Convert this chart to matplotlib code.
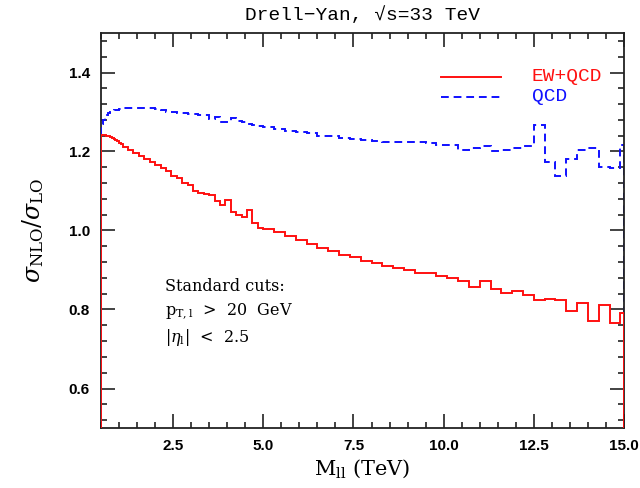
import matplotlib
matplotlib.use("Agg")
import matplotlib.pyplot as plt
from matplotlib.ticker import MultipleLocator, FormatStrFormatter

# ---- data ----
bin_edges = [0.5, 0.55, 0.6, 0.65, 0.7, 0.75, 0.8, 0.85, 0.9, 0.95, 1.0, 1.05, 1.1,
             1.25, 1.4, 1.55, 1.7, 1.85, 2.0, 2.15, 2.3, 2.45, 2.6, 2.75, 2.9, 3.05,
             3.2, 3.35, 3.5, 3.65, 3.8, 3.95, 4.1, 4.25, 4.4, 4.55, 4.7, 4.85, 5.0,
             5.3, 5.6, 5.9, 6.2, 6.5, 6.8, 7.1, 7.4, 7.7, 8.0, 8.3, 8.6, 8.9, 9.2,
             9.5, 9.8, 10.1, 10.4, 10.7, 11.0, 11.3, 11.6, 11.9, 12.2, 12.5, 12.8,
             13.1, 13.4, 13.7, 14.0, 14.3, 14.6, 14.9, 15.0]

ew_qcd = [1.243, 1.242, 1.241, 1.240, 1.238, 1.236, 1.234, 1.232, 1.229, 1.226, 1.222, 1.218,
          1.211, 1.204, 1.196, 1.188, 1.180, 1.173, 1.165, 1.158, 1.150, 1.139, 1.132, 1.120,
          1.114, 1.099, 1.095, 1.092, 1.089, 1.074, 1.064, 1.076, 1.048, 1.040, 1.035, 1.051,
          1.020, 1.006,
          1.005, 0.995, 0.986, 0.976, 0.966, 0.956, 0.948, 0.939, 0.932, 0.924, 0.917, 0.910,
          0.904, 0.900, 0.893, 0.893, 0.885, 0.881, 0.871, 0.858, 0.871, 0.852, 0.842, 0.847,
          0.837, 0.823, 0.827, 0.823, 0.797, 0.816, 0.772, 0.812, 0.767, 0.792]

qcd = [1.270, 1.280, 1.288, 1.293, 1.297, 1.300, 1.302, 1.304, 1.305, 1.306, 1.307, 1.308,
       1.309, 1.310, 1.310, 1.310, 1.309, 1.309, 1.307, 1.305, 1.301, 1.301, 1.298, 1.297,
       1.296, 1.295, 1.293, 1.292, 1.282, 1.287, 1.275, 1.274, 1.285, 1.276, 1.274, 1.270,
       1.268, 1.265,
       1.262, 1.256, 1.252, 1.249, 1.246, 1.240, 1.238, 1.233, 1.231, 1.228, 1.226, 1.225,
       1.224, 1.224, 1.224, 1.222, 1.216, 1.217, 1.203, 1.209, 1.213, 1.201, 1.203, 1.209,
       1.214, 1.266, 1.173, 1.139, 1.180, 1.205, 1.209, 1.162, 1.158, 1.217]

x_ticks = [2.5, 5.0, 7.5, 10.0, 12.5, 15.0]
y_ticks = [0.6, 0.8, 1.0, 1.2, 1.4]

plt.rcParams['mathtext.fontset'] = 'dejavuserif'

fig = plt.figure(figsize=(6.4, 4.88), dpi=100)
ax = fig.add_axes([101/640, 1 - 428/488, 523/640, 395/488])

ax.stairs(qcd, bin_edges, baseline=0, color='#1010ff', lw=1.4,
          linestyle=(0, (4, 2.5)), zorder=2)
ax.stairs(ew_qcd, bin_edges, baseline=0, color='#ff1010', lw=1.4, zorder=3)

ax.set_xlim(0.5, 15.0)
ax.set_ylim(0.5, 1.5)
ax.xaxis.set_minor_locator(MultipleLocator(0.5))
ax.yaxis.set_minor_locator(MultipleLocator(0.04))
ax.set_xticks(x_ticks)
ax.set_yticks(y_ticks)
ax.xaxis.set_major_formatter(FormatStrFormatter('%.1f'))
ax.yaxis.set_major_formatter(FormatStrFormatter('%.1f'))
ax.tick_params(which='both', direction='in', top=True, right=True, width=1.2, color='#222222')
ax.tick_params(which='major', length=10)
ax.tick_params(which='minor', length=4.5)
for lab in ax.get_xticklabels() + ax.get_yticklabels():
    lab.set_fontfamily('Liberation Sans')
    lab.set_fontweight('bold')
    lab.set_fontsize(11)
ax.tick_params(axis='x', pad=8)
ax.tick_params(axis='y', pad=8)
for s in ax.spines.values():
    s.set_linewidth(1.3)
    s.set_color('#222222')
ax.spines['left'].set_zorder(0.5)

ax.set_title('Drell\u2212Yan, \u221As=33 TeV', family=['Liberation Mono', 'DejaVu Sans Mono'],
             fontsize=14, pad=9)
ax.set_xlabel(r'$\mathrm{M_{ll}}$ (TeV)', family='DejaVu Serif', fontsize=15, labelpad=3)
ax.set_ylabel(r'$\sigma_{\mathrm{NLO}}/\sigma_{\mathrm{LO}}$', fontsize=17, labelpad=16)

# legend
ax.plot([0.650, 0.765], [0.889, 0.889], transform=ax.transAxes, color='#ff1010', lw=1.4)
ax.text(0.824, 0.889, 'EW+QCD', transform=ax.transAxes, color='#ff1010',
        family=['Liberation Mono', 'DejaVu Sans Mono'], fontsize=14, va='center')
ax.plot([0.650, 0.765], [0.838, 0.838], transform=ax.transAxes, color='#1010ff', lw=1.4,
        linestyle=(0, (4, 2.5)))
ax.text(0.824, 0.838, 'QCD', transform=ax.transAxes, color='#1010ff',
        family=['Liberation Mono', 'DejaVu Sans Mono'], fontsize=14, va='center')

# annotation
ax.text(0.122, 0.357, 'Standard cuts:', transform=ax.transAxes, family='DejaVu Serif',
        fontsize=11.5, va='center')
ax.text(0.122, 0.294, r'$\mathrm{p_{T,l}}$  >  20  GeV', transform=ax.transAxes,
        family='DejaVu Serif', fontsize=11.5, va='center')
ax.text(0.122, 0.228, r'$|\eta_{\mathrm{l}}|$  <  2.5', transform=ax.transAxes,
        family='DejaVu Serif', fontsize=11.5, va='center')

fig.savefig('out.png', dpi=100)
